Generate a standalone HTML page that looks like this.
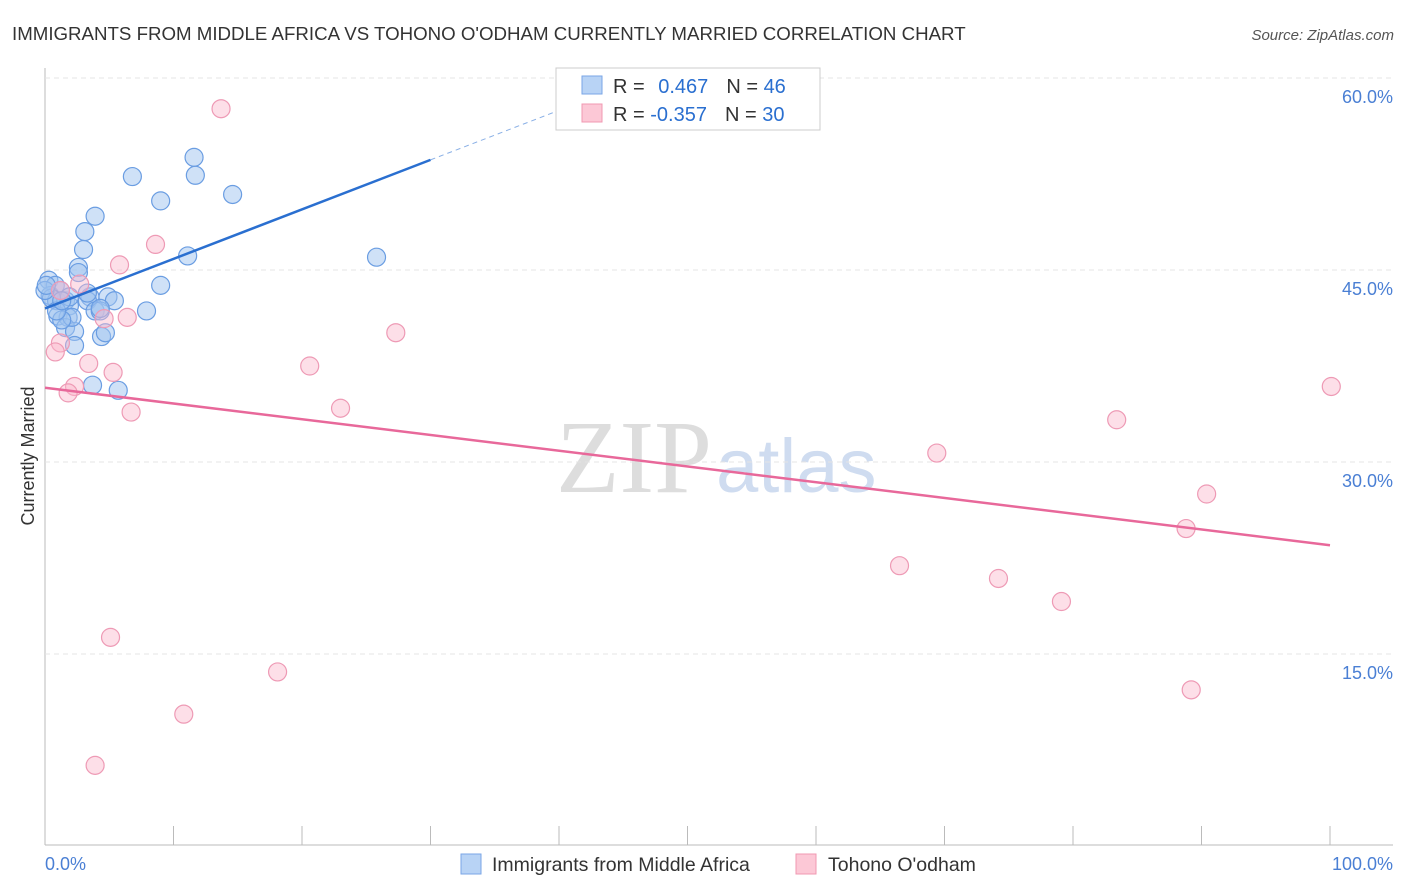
<!DOCTYPE html>
<html><head><meta charset="utf-8"><style>
body{margin:0;background:#fff;font-family:"Liberation Sans",sans-serif}
</style></head><body>
<svg id="c" width="1406" height="892" style="display:block">
<text x="12" y="40" font-size="18.7" fill="#333">IMMIGRANTS FROM MIDDLE AFRICA VS TOHONO O'ODHAM CURRENTLY MARRIED CORRELATION CHART</text>
<text x="1394" y="40" font-size="15" fill="#555" font-style="italic" text-anchor="end">Source: ZipAtlas.com</text>
<text x="34" y="456" font-size="18" fill="#333" text-anchor="middle" transform="rotate(-90 34 456)">Currently Married</text>
<text x="712" y="492" font-size="104" fill="#ddd" text-anchor="end" font-family="Liberation Serif">ZIP</text>
<text x="716" y="492" font-size="76" fill="#cfdcf0">atlas</text>
<g id="grid"></g><g id="pts"></g><g id="lines"></g>
<g>
<rect x="556" y="68" width="264" height="62" fill="#fff" stroke="#ccc"/>
<rect x="582" y="76" width="20" height="18" fill="#b8d3f5" stroke="#7aa6e6"/>
<rect x="582" y="104" width="20" height="18" fill="#fcc8d6" stroke="#f098b2"/>
<text x="613" y="93" font-size="20" fill="#333">R = <tspan fill="#2a6fd0" dx="8">0.467</tspan><tspan dx="18">N = </tspan><tspan fill="#2a6fd0">46</tspan></text>
<text x="613" y="121" font-size="20" fill="#333">R = <tspan fill="#2a6fd0">-0.357</tspan><tspan dx="18">N = </tspan><tspan fill="#2a6fd0">30</tspan></text>
</g>
<g>
<rect x="461" y="854" width="20" height="20" fill="#b8d3f5" stroke="#7aa6e6"/>
<text x="492" y="871" font-size="19.5" fill="#333">Immigrants from Middle Africa</text>
<rect x="796" y="854" width="20" height="20" fill="#fcc8d6" stroke="#f098b2"/>
<text x="828" y="871" font-size="19.5" fill="#333">Tohono O'odham</text>
</g>
<text x="45" y="870" font-size="18" fill="#4a7fd4">0.0%</text>
<text x="1393" y="870" font-size="18" fill="#4a7fd4" text-anchor="end">100.0%</text>
</svg>
<script>
const yTicks=[15,30,45,60];
const yTickLabels=["15.0%","30.0%","45.0%","60.0%"];
const xTicks=[0,10,20,30,40,50,60,70,80,90,100];
const blueX=[6.8,9.0,11.6,11.7,14.6,3.9,3.1,3.0,11.1,25.8,2.6,2.6,9.0,7.9,4.9,3.5,0.3,0.8,0.4,0.9,1.6,1.9,1.0,1.8,1.6,2.3,2.3,3.3,3.9,4.3,4.4,4.7,3.7,5.7,1.2,0.5,0.0,0.1,3.3,2.1,5.4,4.3,1.3,0.9,1.9,1.3];
const blueY=[52.3,50.4,53.8,52.4,50.9,49.2,48.0,46.6,46.1,46.0,45.2,44.8,43.8,41.8,42.9,42.9,44.2,43.8,43.0,42.6,42.6,42.2,41.4,41.3,40.5,40.2,39.1,42.6,41.8,41.8,39.8,40.1,36.0,35.6,43.4,42.8,43.4,43.8,43.2,41.3,42.6,42.0,41.1,41.8,42.9,42.6];
const pinkX=[13.7,8.6,5.8,2.7,4.6,6.4,27.3,1.2,0.8,3.4,5.3,2.3,1.8,6.7,20.6,23.0,69.4,83.4,100.1,90.4,88.8,66.5,74.2,79.1,89.2,5.1,18.1,10.8,3.9,1.2];
const pinkY=[57.6,47.0,45.4,43.9,41.2,41.3,40.1,39.3,38.6,37.7,37.0,35.9,35.4,33.9,37.5,34.2,30.7,33.3,35.9,27.5,24.8,21.9,20.9,19.1,12.2,16.3,13.6,10.3,6.3,43.4];
const blueFit=[0,42.0,42.4,58.4];
const pinkFit=[0,35.8,100,23.5];
const X=v=>45+v*12.85, Y=v=>654-(v-15)*12.8;
const NS="http://www.w3.org/2000/svg";
function mk(t,a,p){const e=document.createElementNS(NS,t);for(const k in a)e.setAttribute(k,a[k]);p.appendChild(e);return e;}
const g=document.getElementById('grid');
let ax=mk('line',{x1:45,y1:68,x2:45,y2:845,stroke:'#bbb'},g);

let bx=mk('line',{x1:45,y1:845,x2:1393,y2:845,stroke:'#bbb'},g);

yTicks.forEach((v,i)=>{
 const l=mk('line',{x1:45,x2:1393,y1:Y(v),y2:Y(v),stroke:'#e4e4e4','stroke-dasharray':'5,4'},g);
 
 const t=mk('text',{x:1393,y:Y(v)+25,'font-size':18,fill:'#4a7fd4','text-anchor':'end'},g);t.textContent=yTickLabels[i];
 
});
xTicks.forEach(v=>{const l=mk('line',{x1:X(v),x2:X(v),y1:826,y2:845,stroke:'#bbb'},g);
 });
const p=document.getElementById('pts');
blueX.forEach((x,i)=>{const c=mk('circle',{cx:X(x),cy:Y(blueY[i]),r:9,fill:'rgba(160,195,240,0.5)',stroke:'#6a9de2','stroke-width':1.2},p);
 });
pinkX.forEach((x,i)=>{const c=mk('circle',{cx:X(x),cy:Y(pinkY[i]),r:9,fill:'rgba(250,185,205,0.45)',stroke:'#ee9ab5','stroke-width':1.2},p);
 });
const L=document.getElementById('lines');
const by=x=>blueFit[1]+(blueFit[3]-blueFit[1])*(x-blueFit[0])/(blueFit[2]-blueFit[0]);
let b1=mk('line',{x1:X(0),y1:Y(by(0)),x2:X(30),y2:Y(by(30)),stroke:'#2a6fd0','stroke-width':2.5},L);

let b2=mk('line',{x1:X(30),y1:Y(by(30)),x2:X(42.4),y2:Y(by(42.4)),stroke:'#8ab0e6','stroke-width':1,'stroke-dasharray':'5,4'},L);

let p1=mk('line',{x1:X(pinkFit[0]),y1:Y(pinkFit[1]),x2:X(pinkFit[2]),y2:Y(pinkFit[3]),stroke:'#e8689a','stroke-width':2.5},L);

</script>
</body></html>
